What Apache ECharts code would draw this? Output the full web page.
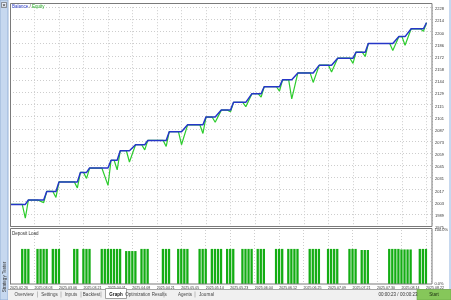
<!DOCTYPE html>
<html><head><meta charset="utf-8">
<script src="https://cdn.jsdelivr.net/npm/echarts@6/dist/echarts.min.js"></script>
<style>html,body{margin:0;padding:0;background:#fff;}#c{width:451px;height:300px;}</style>
</head><body><div id="c"></div>
<script>
// ---- data ----
const xTickLabels = ['2025.02.26','2025.03.03','2025.03.06','2025.03.21','2025.04.01','2025.04.08','2025.04.21','2025.05.05','2025.05.14','2025.05.23','2025.06.04','2025.06.12','2025.06.25','2025.07.09','2025.07.21','2025.07.30','2025.08.14','2025.08.22'];
const yTickLabels = ['1975','1989','2003','2017','2031','2045','2059','2073','2087','2101','2115','2129','2144','2158','2172','2186','2200','2214','2228'];
const loadTickLabels = ['0.0%','100.0%'];
const deals = [0, 4,5,6, 9,11,12, 14,15,16, 21,22,23, 24,25,26, 30,32,33, 34,35,36, 38,39,41, 43,44,45, 50,51,52, 55,56,58, 62,63,64, 66,67,69, 71,72,73, 76,77,79, 81,82,83, 87,88,89, 91,92,94, 98,99,101, 104,105,107, 111,112,113, 115,116,117, 124,125,127, 128,129,131, 134,135,136];
const balance = [2000, 2000,2000,2005, 2005,2005,2015, 2015,2015,2026, 2026,2026,2037, 2037,2037,2042, 2042,2042,2051, 2051,2051,2062, 2062,2062,2069, 2069,2069,2074, 2074,2074,2084, 2084,2084,2092, 2092,2092,2101, 2101,2101,2109, 2109,2109,2118, 2118,2118,2128, 2128,2128,2136, 2136,2136,2144, 2144,2144,2152, 2152,2152,2161, 2161,2161,2169, 2169,2169,2176, 2176,2176,2186, 2186,2186,2194, 2194,2194,2203, 2203,2203,2210];
const equity = [2000, 2000,1984,2005, 2005,2002,2015, 2015,2008,2026, 2026,2019,2037, 2037,2030,2042, 2042,2022,2051, 2051,2040,2062, 2062,2049,2069, 2069,2063,2074, 2074,2067,2084, 2084,2069,2092, 2092,2082,2101, 2101,2095,2109, 2109,2107,2118, 2118,2113,2128, 2128,2124,2136, 2136,2131,2144, 2144,2122,2152, 2152,2141,2161, 2161,2153,2169, 2169,2163,2176, 2176,2171,2186, 2186,2178,2194, 2194,2184,2203, 2203,2200,2210];
const loadDeals = [4,5,6, 9,10,11,12, 14,15,16, 21,22, 24,25,26, 30,31,32,33, 34,35,36, 38,39,40,41, 43,44,45, 50,51,52, 55,56,57,58, 62,63,64, 66,67,68,69, 71,72,73, 76,77,78,79, 81,82,83, 87,88,89, 91,92,93,94, 98,99,100,101, 104,105,106,107, 111,112,113, 115,116,117, 124,125,126,127, 128,129,130,131, 134,135,136];
const loadValues = [65,65,65, 65,65,65,65, 65,65,65, 65,65, 65,65,65, 65,65,65,65, 65,65,65, 61,61,61,61, 65,65,65, 65,65,65, 65,65,65,65, 65,65,65, 65,65,65,65, 65,65,65, 65,65,65,65, 65,65,65, 65,65,65, 65,65,65,65, 65,65,65,65, 65,65,65,65, 65,65,65, 63,63,63, 65,65,65,65, 64,64,64,64, 65,65,65];

// ---- chart ----
const FONT = 'Liberation Sans';
const X_MAX = 137.8, X_STEP = 8;
const Y_MIN = 1975, Y_STEP = 253/18, Y_MAX = Y_MIN + 18*Y_STEP;
const GRID_COL = '#cdcdcd', FRAME = '#7a7a7a';
const pairs = (xs, ys) => xs.map((x, i) => [x, ys[i]]);

const chart = echarts.init(document.getElementById('c'), null, {renderer: 'canvas', width: 451, height: 300});
const splitX = {show: true, lineStyle: {color: GRID_COL, type: [1, 2], width: 1}};
chart.setOption({
  animation: false,
  backgroundColor: '#ffffff',
  grid: [
    {left: 10, top: 7.2, width: 422, height: 218.8},
    {left: 10, top: 230, width: 422, height: 54}
  ],
  xAxis: [
    {type: 'value', gridIndex: 0, min: 0, max: X_MAX, interval: X_STEP,
     axisLine: {show: false}, axisTick: {show: false}, axisLabel: {show: false}, splitLine: splitX},
    {type: 'value', gridIndex: 1, min: 0, max: X_MAX, interval: X_STEP,
     axisLine: {show: false}, axisTick: {show: false}, splitLine: splitX,
     axisLabel: {show: true, align: 'left', margin: 2, fontSize: 3.6, fontFamily: FONT, color: '#333',
       formatter: v => { const k = Math.round(v / X_STEP); return Math.abs(k * X_STEP - v) < 1e-6 && k < xTickLabels.length ? xTickLabels[k] : ''; }}}
  ],
  yAxis: [
    {type: 'value', gridIndex: 0, position: 'right', min: Y_MIN, max: Y_MAX, interval: Y_STEP,
     axisLine: {show: true, lineStyle: {color: FRAME, width: 1}}, axisTick: {show: false},
     splitLine: {show: true, lineStyle: {color: GRID_COL, type: [1, 2], width: 1}},
     axisLabel: {margin: 3, fontSize: 4, fontFamily: FONT, color: '#333', verticalAlign: 'top',
       formatter: v => { const k = Math.round((v - Y_MIN) / Y_STEP); return yTickLabels[k] || ''; }}},
    {type: 'value', gridIndex: 1, position: 'right', min: 0, max: 100, interval: 100,
     axisLine: {show: true, lineStyle: {color: FRAME, width: 1}}, axisTick: {show: false},
     splitLine: {show: false},
     axisLabel: {margin: 3, fontSize: 4, fontFamily: FONT, color: '#333',
       formatter: v => loadTickLabels[Math.round(v / 100)] || ''}}
  ],
  series: [
    {type: 'line', xAxisIndex: 0, yAxisIndex: 0, data: pairs(deals, equity), symbol: 'none',
     lineStyle: {color: '#2dcc2d', width: 1.2}, z: 2},
    {type: 'line', xAxisIndex: 0, yAxisIndex: 0, data: pairs(deals, balance), symbol: 'none',
     lineStyle: {color: '#2536c8', width: 1.5}, z: 3},
    {type: 'bar', xAxisIndex: 1, yAxisIndex: 1, data: pairs(loadDeals, loadValues), barWidth: 2.3,
     itemStyle: {color: '#14ad14'}, z: 2}
  ],
  graphic: [
    // plot frames
    {type: 'rect', shape: {x: 10.5, y: 3.5, width: 421.5, height: 223}, style: {fill: null, stroke: FRAME, lineWidth: 1}, silent: true, z: 10},
    {type: 'rect', shape: {x: 10.5, y: 228.5, width: 421.5, height: 55.5}, style: {fill: null, stroke: FRAME, lineWidth: 1}, silent: true, z: 10},
    // legend texts
    {type: 'text', left: 12, top: 4, z: 11, style: {text: '{b|Balance}{s| / }{e|Equity}', fontSize: 4.5, fontFamily: FONT,
      rich: {b: {fill: '#3140c8', fontSize: 4.5, fontFamily: FONT}, s: {fill: '#333', fontSize: 4.5, fontFamily: FONT}, e: {fill: '#1ea81e', fontSize: 4.5, fontFamily: FONT}}}},
    {type: 'text', left: 12, top: 231, z: 11, style: {text: 'Deposit Load', fontSize: 4.5, fontFamily: FONT, fill: '#333'}},
    // left side bar
    {type: 'rect', shape: {x: 0, y: 0, width: 8, height: 300}, style: {fill: '#c6d8ef', stroke: '#95b1d6', lineWidth: 1}, z: 12},
    {type: 'rect', shape: {x: 1.5, y: 2.5, width: 5, height: 5}, style: {fill: '#e8eef8', stroke: '#555', lineWidth: 0.6}, z: 13},
    {type: 'text', x: 4, y: 5, z: 14, style: {text: '×', fontSize: 6, fontFamily: FONT, fill: '#222', align: 'center', verticalAlign: 'middle'}},
    {type: 'text', x: 4.5, y: 277, rotation: Math.PI / 2, z: 14, style: {text: 'Strategy Tester', fontSize: 4.5, fontFamily: FONT, fill: '#333', align: 'center', verticalAlign: 'middle'}},
    // right edge strip
    {type: 'rect', shape: {x: 449, y: 0, width: 2, height: 289}, style: {fill: '#c6d8ef'}, z: 12},
    // bottom tab bar
    {type: 'rect', shape: {x: 8, y: 289, width: 443, height: 11}, style: {fill: '#f0f0f0'}, z: 12},
    {type: 'line', shape: {x1: 8, y1: 289.5, x2: 451, y2: 289.5}, style: {stroke: '#a8a8a8', lineWidth: 1}, z: 13},
    {type: 'rect', shape: {x: 105.5, y: 288.5, width: 21, height: 10}, style: {fill: '#ffffff', stroke: '#8a8a8a', lineWidth: 0.8}, z: 13},
    {type: 'group', z: 14, children: [
      ['Overview', 24], ['Settings', 49.5], ['Inputs', 71], ['Backtest', 91.5], ['Graph', 116], ['Optimization Results', 146], ['Agents', 185], ['Journal', 206.5]
    ].map(([t, cx]) => ({type: 'text', x: cx, y: 294.5, z: 14, style: {text: t, fontSize: 4.5, fontFamily: FONT, fill: t === 'Graph' ? '#111' : '#444', fontWeight: t === 'Graph' ? 'bold' : 'normal', align: 'center', verticalAlign: 'middle'}}))
    .concat([37.5, 61, 81, 101, 164, 195].map(sx => ({type: 'line', z: 14, shape: {x1: sx, y1: 291.5, x2: sx, y2: 297.5}, style: {stroke: '#9a9a9a', lineWidth: 0.6}})))},
    // status + start button
    {type: 'text', x: 398, y: 294.5, z: 14, style: {text: '00:00:23 / 00:00:23', fontSize: 4.5, fontFamily: FONT, fill: '#333', align: 'center', verticalAlign: 'middle'}},
    {type: 'rect', shape: {x: 417, y: 289.5, width: 34, height: 10.5}, style: {fill: '#86c75a', stroke: '#6aa843', lineWidth: 0.6}, z: 13},
    {type: 'text', x: 434, y: 294.5, z: 14, style: {text: 'Start', fontSize: 4.5, fontFamily: FONT, fill: '#1a2a10', align: 'center', verticalAlign: 'middle'}}
  ]
});
</script></body></html>
